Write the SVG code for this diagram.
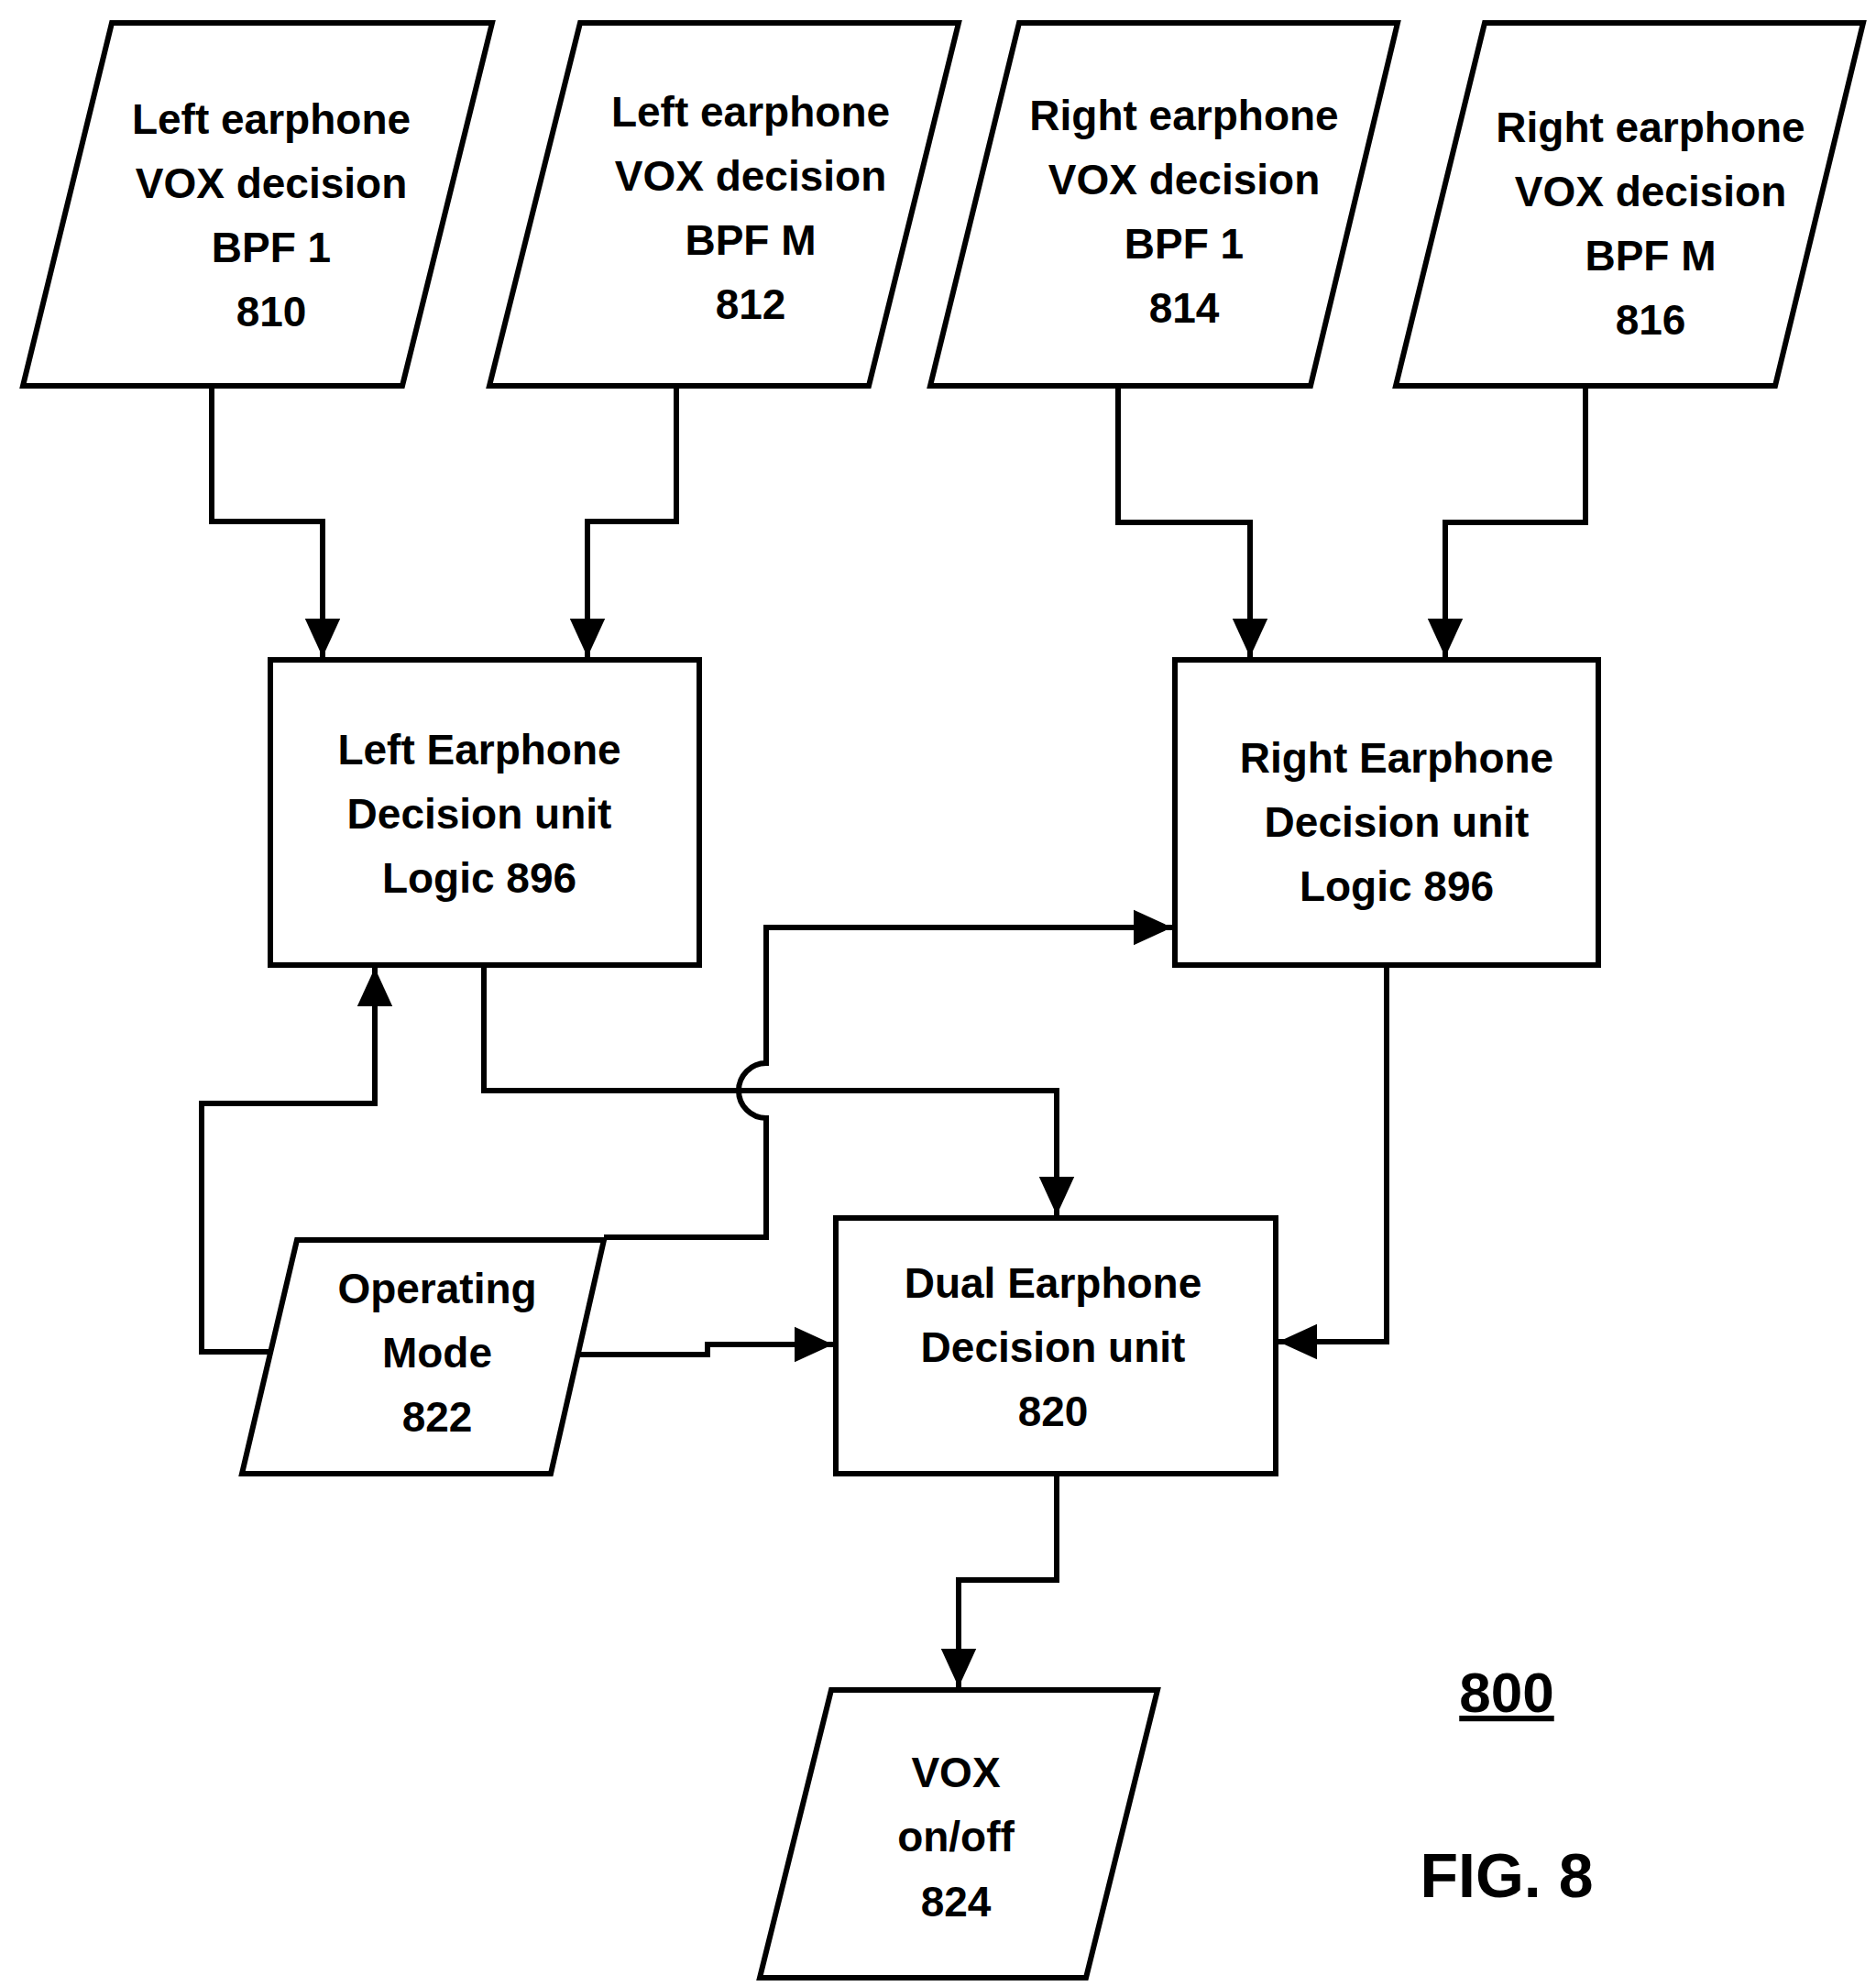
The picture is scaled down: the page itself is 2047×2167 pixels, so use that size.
<svg xmlns="http://www.w3.org/2000/svg" width="2047" height="2167" viewBox="0 0 2047 2167">
<style>
.n{fill:#fff;stroke:#000;stroke-width:6}
.t{font-family:"Liberation Sans",Arial,sans-serif;font-weight:bold;font-size:46px;text-anchor:middle}
.c{fill:none;stroke:#000;stroke-width:6;marker-end:url(#a)}
</style>
<defs><marker id="a" markerWidth="8" markerHeight="8" refX="7" refY="4" orient="auto" markerUnits="strokeWidth"><path d="M0,0.8 L7,4 L0,7.2 Z" fill="#000"/></marker></defs>
<rect width="2047" height="2167" fill="#fff"/>
<g id="n810"><polygon class="n" points="122,25 537,25 439,421 25,421"/><text class="t" x="296" y="146">Left earphone</text><text class="t" x="296" y="216">VOX decision</text><text class="t" x="296" y="286">BPF 1</text><text class="t" x="296" y="356">810</text></g>
<g id="n812"><polygon class="n" points="633,25 1046,25 948,421 534,421"/><text class="t" x="819" y="138">Left earphone</text><text class="t" x="819" y="208">VOX decision</text><text class="t" x="819" y="278">BPF M</text><text class="t" x="819" y="348">812</text></g>
<g id="n814"><polygon class="n" points="1112,25 1525,25 1430,421 1015,421"/><text class="t" x="1292" y="142">Right earphone</text><text class="t" x="1292" y="212">VOX decision</text><text class="t" x="1292" y="282">BPF 1</text><text class="t" x="1292" y="352">814</text></g>
<g id="n816"><polygon class="n" points="1620,25 2033,25 1937,421 1523,421"/><text class="t" x="1801" y="155">Right earphone</text><text class="t" x="1801" y="225">VOX decision</text><text class="t" x="1801" y="295">BPF M</text><text class="t" x="1801" y="365">816</text></g>
<g id="left"><rect class="n" x="295" y="720" width="468" height="333"/><text class="t" x="523" y="834">Left Earphone</text><text class="t" x="523" y="904">Decision unit</text><text class="t" x="523" y="974">Logic 896</text></g>
<g id="right"><rect class="n" x="1282" y="720" width="462" height="333"/><text class="t" x="1524" y="843">Right Earphone</text><text class="t" x="1524" y="913">Decision unit</text><text class="t" x="1524" y="983">Logic 896</text></g>
<g id="n820"><rect class="n" x="912" y="1329" width="480" height="279"/><text class="t" x="1149" y="1416">Dual Earphone</text><text class="t" x="1149" y="1486">Decision unit</text><text class="t" x="1149" y="1556">820</text></g>
<g id="n822"><polygon class="n" points="324,1353 659,1353 601,1608 264,1608"/><text class="t" x="477" y="1422">Operating</text><text class="t" x="477" y="1492">Mode</text><text class="t" x="477" y="1562">822</text></g>
<g id="n824"><polygon class="n" points="907,1844 1263,1844 1185,2158 829,2158"/><text class="t" x="1043" y="1950">VOX</text><text class="t" x="1043" y="2020">on/off</text><text class="t" x="1043" y="2091">824</text></g>
<g id="labels"><text class="t" x="1644" y="1868" style="font-size:62px;text-decoration:underline">800</text><text class="t" x="1644" y="2070" style="font-size:68px">FIG. 8</text></g>
<g id="connectors">
<path class="c" d="M231,421 V569 H352 V717"/>
<path class="c" d="M738,421 V569 H641 V717"/>
<path class="c" d="M1220,421 V570 H1364 V717"/>
<path class="c" d="M1730,421 V570 H1577 V717"/>
<path class="c" d="M528,1053 V1190 H1153 V1326"/>
<path class="c" d="M659,1350 H836 V1220 A30,30 0 0 1 836,1160 V1012 H1279"/>
<path class="c" d="M295,1475 H220 V1204 H409 V1056"/>
<path class="c" d="M631,1478 H772 V1467 H909"/>
<path class="c" d="M1513,1053 V1464 H1395"/>
<path class="c" d="M1153,1608 V1724 H1046 V1841"/>
</g>
</svg>
